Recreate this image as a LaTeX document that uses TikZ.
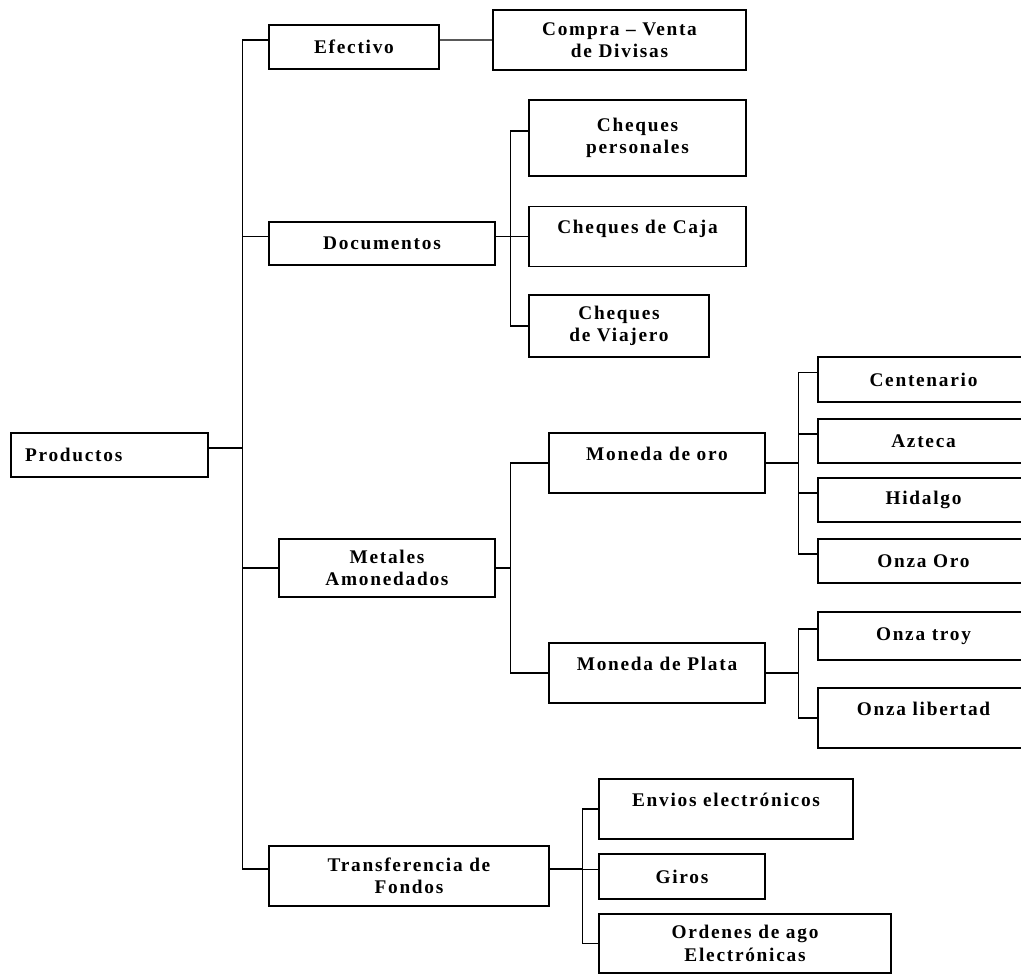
\documentclass[tikz,border=0pt]{standalone}
\usepackage{fontspec}
\setmainfont{Liberation Serif}[LetterSpace=9]
\begin{document}
\begin{tikzpicture}[x=0.02cm,y=-0.02cm]

\tikzstyle{box} = [rectangle, draw, line width=0.8pt, inner sep=0pt, align=center, font=\fsize]
\tikzstyle{link} = [line width=0.8pt]
\tikzstyle{hi} = [yshift=0.14cm]
\tikzstyle{raised} = [text depth=11pt]
\tikzset{sz/.style 2 args={minimum width=#1*0.02cm, minimum height=#2*0.02cm}}

\def \fsize{\fontsize{11}{12.8}\selectfont\bfseries}

\useasboundingbox (0,0) rectangle (1021,974);

%Root
\node[box, sz={197}{44}, text width=3.38cm, inner xsep=0.28cm, align=left](prod) at (109.5,455){Productos};

%First level
\node[box, sz={170}{44}](efec) at (354,47){Efectivo};
\node[box, sz={226}{43}](doc) at (382,243.5){Documentos};
\node[box, sz={216}{58}](met) at (387,568){Metales\\Amonedados};
\node[box, sz={280}{60}](tra) at (409,876){Transferencia de\\Fondos};

%Trunk from Productos
\draw[link] ([hi]efec.west) -- ++(-26,0) |- ([hi]prod.east);
\draw[link] ([hi]doc.west) -- ++(-26,0) |- ([hi]prod.east);
\draw[link] (met.west) -- ++(-36,0) |- ([hi]prod.east);
\draw[link] ([hi]tra.west) -- ++(-26,0) |- ([hi]prod.east);

%Efectivo
\node[box, sz={253}{60}](divisas) at (619.5,40){Compra – Venta\\de Divisas};
\draw[link] ([hi]efec.east) -- (divisas.west);

%Documentos
\node[box, sz={217}{76}](chp) at (637.5,138){Cheques\\personales};
\node[box, sz={217}{60}, raised](caja) at (637.5,236.5){Cheques de Caja};
\node[box, sz={180}{62}](via) at (619,326){Cheques\\de Viajero};
\draw[link] ([hi]chp.west) -- ++(-18,0) |- ([hi]doc.east);
\draw[link] (caja.west) -- ++(-18,0) |- ([hi]doc.east);
\draw[link] (via.west) -- ++(-18,0) |- ([hi]doc.east);

%Metales Amonedados
\node[box, sz={216}{60}, raised](oro) at (657,463){Moneda de oro};
\node[box, sz={216}{60}, raised](plata) at (657,673){Moneda de Plata};
\draw[link] (oro.west) -- ++(-38,0) |- (met.east);
\draw[link] (plata.west) -- ++(-38,0) |- (met.east);

%Moneda de oro
\node[box, sz={211}{45}](cent) at (923.5,379.5){Centenario};
\node[box, sz={211}{44}](azt) at (923.5,441){Azteca};
\node[box, sz={211}{44}](hid) at (923.5,500){Hidalgo};
\node[box, sz={211}{44}](onzo) at (923.5,561){Onza Oro};
\foreach \n in {cent,azt,hid,onzo}
  \draw[link] ([hi]\n.west) -- ++(-19,0) |- (oro.east);

%Moneda de Plata
\node[box, sz={211}{48}](troy) at (923.5,636){Onza troy};
\node[box, sz={211}{60}, raised](lib) at (923.5,718){Onza libertad};
\draw[link] ([hi]troy.west) -- ++(-19,0) |- (plata.east);
\draw[link] (lib.west) -- ++(-19,0) |- (plata.east);

%Transferencia de Fondos
\node[box, sz={254}{60}, raised](env) at (726,809){Envios electrónicos};
\node[box, sz={166}{45}](gir) at (682,876.5){Giros};
\node[box, sz={292}{59}](ord) at (745,943.5){Ordenes de ago\\Electrónicas};
\draw[link] (env.west) -- ++(-16,0) |- ([hi]tra.east);
\draw[link] ([hi]gir.west) -- ++(-16,0) |- ([hi]tra.east);
\draw[link] (ord.west) -- ++(-16,0) |- ([hi]tra.east);

\end{tikzpicture}
\end{document}
